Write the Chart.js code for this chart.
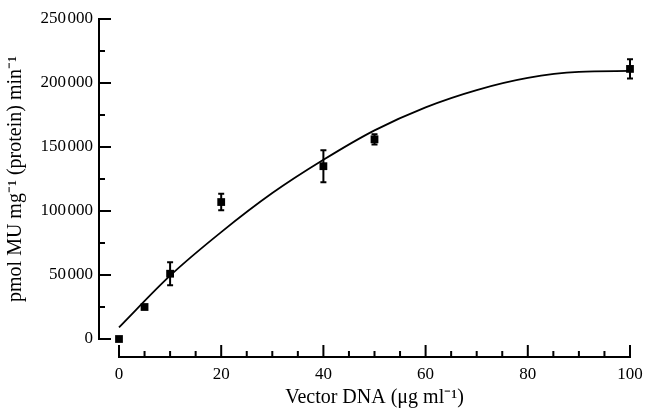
<!DOCTYPE html>
<html>
<head>
<meta charset="utf-8">
<script src="https://cdn.jsdelivr.net/npm/chart.js@4"></script>
<style>
  html, body { margin: 0; padding: 0; background: #fff; }
</style>
</head>
<body>
<canvas id="myChart" width="646" height="410"></canvas>
<script>
const chartEle = document.getElementById('myChart')

// measured points
const dnaConc  = [0, 5, 10, 20, 40, 50, 100]
const activity = [0, 25000, 51000, 107000, 135000, 156000, 211000]
const errBar   = [0, 0, 9000, 6500, 12500, 4000, 7500]

// fitted curve
const curveX = [0, 10, 20, 30, 40, 50, 60, 70, 80, 90, 100]
const curveY = [9100, 49500, 83500, 114000, 140000, 163000, 181000, 194500, 204000, 208700, 209400]

// axis ticks
const xMajor = [0, 20, 40, 60, 80, 100]
const xMinor = [5, 10, 15, 25, 30, 35, 45, 50, 55, 65, 70, 75, 85, 90, 95]
const yMajor = [0, 50000, 100000, 150000, 200000, 250000]
const yMinor = [25000, 75000, 125000, 175000, 225000]

const serif = 'Liberation Serif'

function fmt(v) {
    return String(v).replace(/\B(?=(\d{3})+(?!\d))/g, '\u200a')
}

// detached axes with inward ticks
const axesPlugin = {
    id: 'axes',
    afterDraw(chart) {
        const {ctx, chartArea: a, scales: {x, y}} = chart
        const ax = a.left - 20
        const ay = a.bottom + 18
        ctx.save()
        ctx.strokeStyle = '#000'
        ctx.lineWidth = 2
        ctx.beginPath()
        ctx.moveTo(ax, y.getPixelForValue(yMajor[yMajor.length - 1]) - 1)
        ctx.lineTo(ax, y.getPixelForValue(0) + 1)
        ctx.moveTo(x.getPixelForValue(0) - 1, ay)
        ctx.lineTo(x.getPixelForValue(100) + 1, ay)
        yMajor.forEach(v => { const p = y.getPixelForValue(v); ctx.moveTo(ax, p); ctx.lineTo(ax + 12, p) })
        yMinor.forEach(v => { const p = y.getPixelForValue(v); ctx.moveTo(ax, p); ctx.lineTo(ax + 6, p) })
        xMajor.forEach(v => { const p = x.getPixelForValue(v); ctx.moveTo(p, ay); ctx.lineTo(p, ay - 12) })
        xMinor.forEach(v => { const p = x.getPixelForValue(v); ctx.moveTo(p, ay); ctx.lineTo(p, ay - 6) })
        ctx.stroke()
        ctx.restore()
    }
}

const errorBars = {
    id: 'errorBars',
    afterDatasetsDraw(chart) {
        const {ctx, scales: {x, y}} = chart
        ctx.save()
        ctx.strokeStyle = '#000'
        ctx.lineWidth = 2
        ctx.beginPath()
        dnaConc.forEach((d, i) => {
            if (!errBar[i]) return
            const px = x.getPixelForValue(d)
            const top = y.getPixelForValue(activity[i] + errBar[i])
            const bot = y.getPixelForValue(activity[i] - errBar[i])
            ctx.moveTo(px, top); ctx.lineTo(px, bot)
            ctx.moveTo(px - 3, top); ctx.lineTo(px + 3, top)
            ctx.moveTo(px - 3, bot); ctx.lineTo(px + 3, bot)
        })
        ctx.stroke()
        ctx.restore()
    }
}

const config = {
    type: 'scatter',
    data: {
        datasets: [
            {
                data: dnaConc.map((v, i) => ({x: v, y: activity[i]})),
                pointStyle: 'rect',
                pointRadius: 5.5,
                backgroundColor: '#000',
                borderWidth: 0,
                clip: false,
                order: 1,
            },
            {
                type: 'line',
                data: curveX.map((v, i) => ({x: v, y: curveY[i]})),
                borderColor: '#000',
                borderWidth: 1.8,
                pointRadius: 0,
                cubicInterpolationMode: 'monotone',
                fill: false,
                clip: false,
                order: 2,
            }
        ]
    },
    options: {
        responsive: false,
        animation: false,
        devicePixelRatio: 1,
        layout: {padding: {left: 0, right: 16, top: 19, bottom: 0}},
        plugins: {legend: {display: false}, tooltip: {enabled: false}},
        scales: {
            x: {
                type: 'linear',
                min: 0,
                max: 100,
                grid: {display: false, drawTicks: false},
                border: {display: false},
                ticks: {stepSize: 20, padding: 25, color: '#000', font: {family: serif, size: 17}},
                title: {display: true, text: 'Vector DNA (\u03bcg ml\u207b\u00b9)', color: '#000',
                        font: {family: serif, size: 20}, padding: {top: 0, bottom: 0}},
                afterFit: s => { s.height = 71; s.paddingLeft = 0; s.paddingRight = 0 }
            },
            y: {
                min: 0,
                max: 250000,
                grid: {display: false, drawTicks: false},
                border: {display: false},
                ticks: {stepSize: 50000, padding: 26, color: '#000', font: {family: serif, size: 17},
                        callback: v => fmt(v)},
                title: {display: true, text: 'pmol MU mg\u207b\u00b9 (protein) min\u207b\u00b9', color: '#000',
                        font: {family: serif, size: 20}, padding: {top: 4, bottom: 0}},
                afterFit: s => { s.width = 119; s.paddingTop = 0; s.paddingBottom = 0 }
            }
        }
    },
    plugins: [axesPlugin, errorBars]
}

const chart = new Chart(chartEle, config)
</script>
</body>
</html>
